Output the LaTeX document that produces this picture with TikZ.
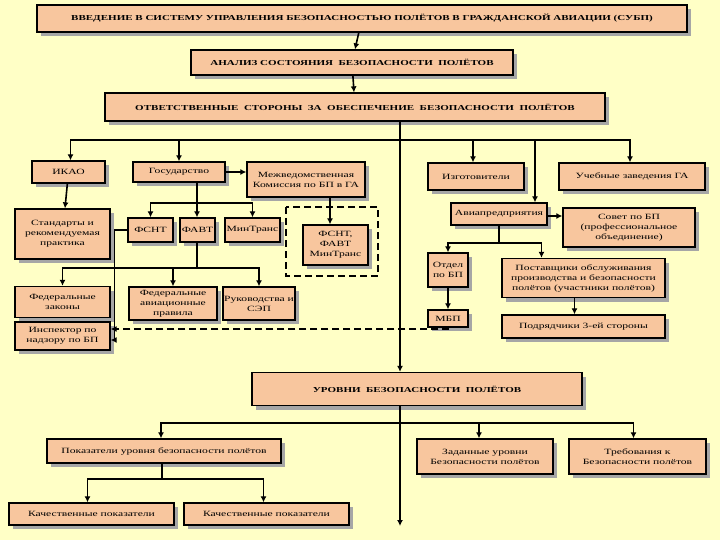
\documentclass[tikz,border=0pt]{standalone}
\usepackage{fontspec}
\setmainfont{Liberation Serif}[FakeStretch=1.45]
\usetikzlibrary{arrows.meta,shadows,positioning}

\definecolor{bgyellow}{HTML}{FFFFC6}
\definecolor{peach}{HTML}{F8C69E}

\tikzset{
    box/.style={draw=black, line width=1.3pt, fill=peach, align=center,
        inner sep=1pt, font=\fontsize{8}{10}\selectfont,
        drop shadow={shadow xshift=4pt, shadow yshift=-4pt, fill=black!35, opacity=1}},
    head/.style={box, font=\fontsize{7.6}{9}\selectfont\bfseries},
    link/.style={line width=1.6pt, -{Latex[length=6pt,width=6pt]}},
    plain/.style={line width=1.6pt},
}

\begin{document}
\begin{tikzpicture}[x=1pt,y=-1pt]
    \fill[bgyellow] (0,0) rectangle (720,540);
    \useasboundingbox (0,0) rectangle (720,540);

    % top part
    \node[head, minimum width=650, minimum height=27] (intro) at (362,18.5)
        {ВВЕДЕНИЕ В СИСТЕМУ УПРАВЛЕНИЯ БЕЗОПАСНОСТЬЮ ПОЛЁТОВ В ГРАЖДАНСКОЙ АВИАЦИИ (СУБП)};
    \node[head, minimum width=322, minimum height=25] (analiz) at (352,62.5)
        {АНАЛИЗ СОСТОЯНИЯ\ \ БЕЗОПАСНОСТИ\ \ ПОЛЁТОВ};
    \node[head, minimum width=500, minimum height=28] (storony) at (355,107)
        {ОТВЕТСТВЕННЫЕ\ \ СТОРОНЫ\ \ ЗА\ \ ОБЕСПЕЧЕНИЕ\ \ БЕЗОПАСНОСТИ\ \ ПОЛЁТОВ};

    % left group
    \node[box, minimum width=73, minimum height=22] (ikao) at (68.5,172) {ИКАО};
    \node[box, minimum width=92, minimum height=20] (gos) at (179,172) {Государство};
    \node[box, minimum width=118, minimum height=35] (mvk) at (306,179.5)
        {Межведомственная\\Комиссия по БП в ГА};
    \node[box, minimum width=95, minimum height=50] (standart) at (62.5,234)
        {Стандарты и\\рекомендуемая\\практика};
    \node[box, minimum width=45, minimum height=24] (fsnt) at (150.5,230) {ФСНТ};
    \node[box, minimum width=35, minimum height=24] (favt) at (197.5,230) {ФАВТ};
    \node[box, minimum width=55, minimum height=24] (mintrans) at (252.5,230) {МинТранс};
    \draw[line width=1.6pt, dashed, dash pattern=on 7pt off 4pt] (286,207) rectangle (378,276);
    \node[box, minimum width=65, minimum height=40] (vse) at (335.5,245) {ФСНТ,\\ФАВТ\\МинТранс};
    \node[box, minimum width=95, minimum height=31] (fz) at (62.5,302) {Федеральные\\законы};
    \node[box, minimum width=88, minimum height=33] (fap) at (173,303.5)
        {Федеральные\\авиационные\\правила};
    \node[box, minimum width=72, minimum height=33] (rsep) at (259,303.5) {Руководства и\\СЭП};
    \node[box, minimum width=95, minimum height=28] (inspektor) at (62.5,336)
        {Инспектор по\\надзору по БП};

    % right group
    \node[box, minimum width=96, minimum height=27] (izgot) at (476,176.5) {Изготовители};
    \node[box, minimum width=146, minimum height=27] (ucheb) at (632,176.5) {Учебные заведения ГА};
    \node[box, minimum width=96, minimum height=22] (avia) at (499,214) {Авиапредприятия};
    \node[box, minimum width=132, minimum height=39] (sovet) at (629,227.5)
        {Совет по БП\\(профессиональное\\объединение)};
    \node[box, minimum width=40, minimum height=34] (otdel) at (448,270) {Отдел\\по БП};
    \node[box, minimum width=40, minimum height=17] (mbp) at (448,318.5) {МБП};
    \node[box, minimum width=163, minimum height=39] (postav) at (583.5,278)
        {Поставщики обслуживания\\производства и безопасности\\полётов (участники полётов)};
    \node[box, minimum width=163, minimum height=23] (podr) at (583.5,326.5) {Подрядчики 3-ей стороны};

    % levels
    \node[head, minimum width=330, minimum height=33] (urovni) at (417,389)
        {УРОВНИ\ \ БЕЗОПАСНОСТИ\ \ ПОЛЁТОВ};
    \node[box, minimum width=234, minimum height=24] (pokaz) at (164,451)
        {Показатели уровня безопасности полётов};
    \node[box, minimum width=136, minimum height=35] (zadan) at (485,456.5)
        {Заданные уровни\\Безопасности полётов};
    \node[box, minimum width=137, minimum height=35] (treb) at (637.5,456.5)
        {Требования к\\Безопасности полётов};
    \node[box, minimum width=165, minimum height=22] (kach1) at (91.5,514) {Качественные показатели};
    \node[box, minimum width=165, minimum height=22] (kach2) at (266.5,514) {Качественные показатели};

    % connectors
    \coordinate (br1) at (400,140);
    \coordinate (br2) at (197,203);
    \coordinate (br3) at (197,268);
    \coordinate (br4) at (499,243);
    \coordinate (br5) at (400,423);
    \coordinate (br6) at (162,479);
    \coordinate (kon) at (400,526);

    \draw[link] (intro) -- (analiz);
    \draw[link] (analiz) -- (storony);
    \draw[link] (storony.south -| br1) -- (urovni.north -| br1);
    \draw[plain] ([xshift=2pt]ikao.north |- br1) -- ([xshift=-2pt]ucheb.north |- br1);
    \draw[link] (br1) -| ([xshift=2pt]ikao.north);
    \draw[link] (br1) -| (gos.north);
    \draw[link] (br1) -| ([xshift=-3pt]izgot.north);
    \draw[link] (br1) -| ([xshift=-2pt]ucheb.north);
    \draw[link] (br1) -| ([xshift=36pt]avia.north);

    \draw[link] (ikao) -- (standart);
    \draw[link] (gos.east) -- (gos.east -| mvk.west);
    \draw[plain] (gos.south -| br2) -- (br2);
    \draw[link] (br2) -| (fsnt.north);
    \draw[link] (br2) -- (favt.north -| br2);
    \draw[link] (br2) -| (mintrans.north);
    \draw[link] ([xshift=24pt]mvk.south) -- ([xshift=24pt]mvk.south |- vse.north);
    \draw[plain] (favt.south -| br3) -- (br3);
    \draw[link] (br3) -| (fz.north);
    \draw[link] (br3) -| (fap.north);
    \draw[link] (br3) -| (rsep.north);
    \draw[link] (fsnt.west) -- ++(-13,0) |- ([yshift=-4pt]inspektor.east);

    \draw[link] ([yshift=-2pt]avia.east) -- ([yshift=-2pt]avia.east -| sovet.west);
    \draw[plain] (avia.south) -- (br4);
    \draw[link] (br4) -| (otdel.north);
    \draw[link] (br4) -| ([xshift=-42pt]postav.north);
    \draw[link] (otdel) -- (mbp);
    \draw[link] ([xshift=-9pt]postav.south) -- ([xshift=-9pt]podr.north);
    \draw[link, dashed, dash pattern=on 7pt off 4pt] (mbp.south) |- ([yshift=7pt]inspektor.east);

    \draw[link] (urovni.south -| kon) -- (kon);
    \draw[plain] ([xshift=-3pt]pokaz.north |- br5) -- ([xshift=-4pt]treb.north |- br5);
    \draw[link] (br5) -| ([xshift=-3pt]pokaz.north);
    \draw[link] (br5) -| ([xshift=-6pt]zadan.north);
    \draw[link] (br5) -| ([xshift=-4pt]treb.north);
    \draw[plain] (pokaz.south -| br6) -- (br6);
    \draw[link] (br6) -| ([xshift=-4pt]kach1.north);
    \draw[link] (br6) -| ([xshift=-3pt]kach2.north);
\end{tikzpicture}
\end{document}
